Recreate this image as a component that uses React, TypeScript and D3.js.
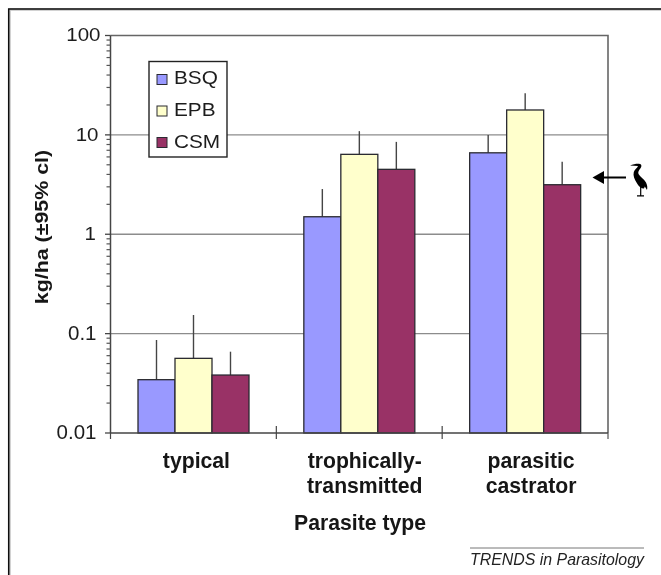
import React from "react";
import * as d3 from "d3";

const categories = ["typical", "trophically-transmitted", "parasitic castrator"];
const categoryLines = [["typical"], ["trophically-", "transmitted"], ["parasitic", "castrator"]];
const seriesNames = ["BSQ", "EPB", "CSM"];
const seriesColors = ["#9999ff", "#ffffcc", "#993366"];
const bsq = [0.0344, 1.5, 6.6];
const epb = [0.0564, 6.37, 17.8];
const csm = [0.0383, 4.5, 3.15];
const bsqUpper = [0.0863, 2.85, 9.96];
const epbUpper = [0.154, 10.9, 26.2];
const csmUpper = [0.0658, 8.5, 5.37];
const yTickLabels = ["0.01", "0.1", "1", "10", "100"];

const values = [bsq, epb, csm];
const uppers = [bsqUpper, epbUpper, csmUpper];
const FONT = "'Liberation Sans', Arial, sans-serif";

const plot = { left: 110.5, right: 608, top: 35.5, bottom: 433 };
const y = d3.scaleLog().domain([0.01, 100]).range([plot.bottom, plot.top]);
const x0 = d3.scaleBand<string>().domain(categories).range([plot.left, plot.right]);
const x1 = d3.scaleBand<string>().domain(seriesNames).range([27.5, 138.5]);
const line = d3.line();

const tickRight = [96.5, 96.5, 96, 98.5, 100.5];
const tickSquash = [1, 1, 0.86, 0.86, 0.86];
const tickDrop = [5.5, 6, 5.5, 6, 5.2];
const labelNudge = [3, 5.5, 6];

export default function App() {
  const majors = yTickLabels.map(Number);
  const minors = y.ticks().filter((t) => !majors.some((m) => Math.abs(m - t) < 1e-9));
  const boundaries = categories.map((c) => (x0(c) as number));
  return (
    <svg
      width={661}
      height={575}
      style={{ position: "absolute", left: 0, top: 0, background: "#fff", fontFamily: FONT }}
    >
      <defs>
        <filter id="soft" x="-2%" y="-2%" width="104%" height="104%">
          <feGaussianBlur stdDeviation="0.35" />
        </filter>
      </defs>
      <g filter="url(#soft)">
        {/* outer frame */}
        <path d="M9.5 575V9.5H661" fill="none" stroke="#c4c4c4" strokeWidth={2.5} />
        <path d="M8.7 575V9H661" fill="none" stroke="#111" strokeWidth={1.5} />

        {/* grid */}
        {[0.1, 1, 10].map((t) => (
          <line key={t} x1={plot.left} x2={plot.right} y1={y(t)} y2={y(t)} stroke="#8c8c8c" strokeWidth={1.3} />
        ))}
        <path
          d={line([[plot.left, plot.top], [plot.right, plot.top], [plot.right, plot.bottom]]) as string}
          fill="none"
          stroke="#666"
          strokeWidth={1.6}
        />

        {/* bars */}
        {categories.map((c, ci) =>
          seriesNames.map((s, si) => {
            const bx = (x0(c) as number) + (x1(s) as number);
            const w = x1.bandwidth();
            const cx = bx + w / 2;
            return (
              <g key={c + s}>
                <line x1={cx} x2={cx} y1={y(uppers[si][ci])} y2={y(values[si][ci])} stroke="#444" strokeWidth={1.4} />
                <rect
                  x={bx}
                  y={y(values[si][ci])}
                  width={w}
                  height={plot.bottom - y(values[si][ci])}
                  fill={seriesColors[si]}
                  stroke="#2a2a30"
                  strokeWidth={1.3}
                />
              </g>
            );
          })
        )}

        {/* axes */}
        <line x1={plot.left} x2={plot.left} y1={plot.top} y2={plot.bottom} stroke="#444" strokeWidth={1.5} />
        <line x1={plot.left} x2={plot.right} y1={plot.bottom} y2={plot.bottom} stroke="#444" strokeWidth={1.5} />
        {majors.map((t, i) => (
          <g key={t}>
            <line x1={105} x2={plot.left} y1={y(t)} y2={y(t)} stroke="#444" strokeWidth={1.3} />
            <text
              transform={`translate(${tickRight[i]},${y(t) + tickDrop[i]}) scale(1,${tickSquash[i]})`}
              textAnchor="end"
              fontSize={20.5}
              fill="#1c1c1c"
            >
              {yTickLabels[i]}
            </text>
          </g>
        ))}
        {minors.map((t) => (
          <line key={t} x1={106.5} x2={plot.left} y1={y(t)} y2={y(t)} stroke="#555" strokeWidth={1.2} />
        ))}
        {boundaries.map((b, i) => (
          <line key={i} x1={b} x2={b} y1={i === 0 ? plot.bottom : 426} y2={439} stroke="#444" strokeWidth={1.2} />
        ))}
        <line x1={plot.right} x2={plot.right} y1={plot.bottom} y2={439} stroke="#555" strokeWidth={1.2} />

        {/* category labels */}
        {categories.map((c, ci) => (
          <text key={c} textAnchor="middle" fontWeight="bold" fontSize={21.2} fill="#141414">
            {categoryLines[ci].map((l, li) => (
              <tspan key={l} x={(x0(c) as number) + x0.bandwidth() / 2 + labelNudge[ci]} y={468 + li * 25}>
                {l}
              </tspan>
            ))}
          </text>
        ))}
        <text x={360} y={530} textAnchor="middle" fontWeight="bold" fontSize={21.2} fill="#141414">
          Parasite type
        </text>
        <text
          transform={`translate(47.5,227) rotate(-90) scale(1,0.88)`}
          textAnchor="middle"
          fontWeight="bold"
          fontSize={21.4}
          fill="#141414"
        >
          kg/ha (±95% cl)
        </text>

        {/* legend */}
        <rect x={149} y={61.5} width={78} height={95.5} fill="#fff" stroke="#222" strokeWidth={1.4} />
        {seriesNames.map((s, i) => (
          <g key={s}>
            <rect x={157} y={74.5 + i * 31.5} width={10} height={10} fill={seriesColors[i]} stroke="#2a2a30" strokeWidth={1} />
            <text transform={`translate(174,${84.2 + i * 31.8}) scale(1,0.92)`} fontSize={20.8} fill="#1c1c1c">
              {s}
            </text>
          </g>
        ))}

        {/* arrow + bird */}
        <line x1={626} x2={602} y1={177.5} y2={177.5} stroke="#000" strokeWidth={2} />
        <path d="M592.5 177.5L604 171V184Z" fill="#000" />
        <path
          d="M630 165.5C633 164.2 636.5 163.6 639 163.8C641.8 164.2 642 166.3 640.5 168.3C638.8 170.5 637.8 172 638.5 174C640 176.5 644 179 646 182.5C647.3 185 647.6 187.5 647 190L644.8 186.5L644 188.5C641 188.5 638.5 186.5 636.8 183C634.5 179.5 632.8 175.5 633.8 172C634.6 169.2 637.3 168 638 166C635.5 165.6 632.8 165.7 630 165.5Z"
          fill="#000"
        />
        <path d="M640.7 187V195.5M637 195.8H644" fill="none" stroke="#000" strokeWidth={1.2} />

        {/* footer */}
        <line x1={470} x2={644} y1={548} y2={548} stroke="#777" strokeWidth={1} />
        <text x={470} y={565.2} fontStyle="italic" fontSize={15.9} fill="#222">
          TRENDS in Parasitology
        </text>
      </g>
    </svg>
  );
}
